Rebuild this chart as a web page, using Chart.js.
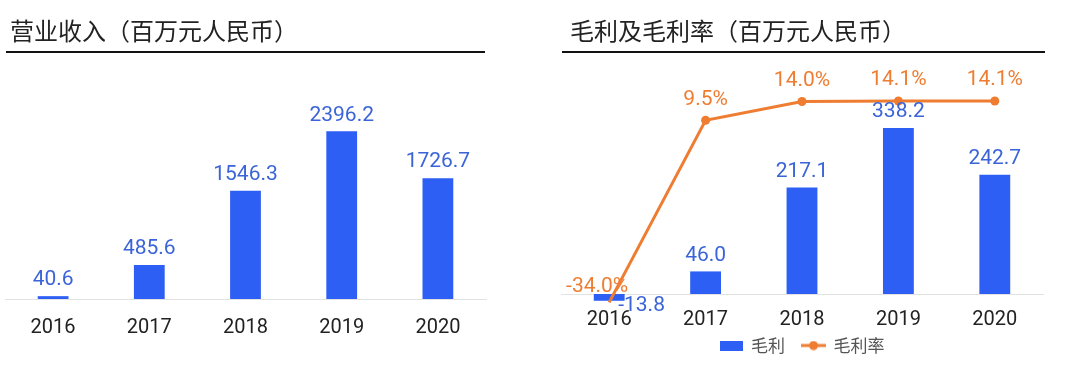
<!DOCTYPE html>
<html>
<head>
<meta charset="utf-8">
<script src="https://cdn.jsdelivr.net/npm/chart.js@4"></script>
<style>
  body { margin: 0; background: #fff; }
  #wrap { position: relative; width: 1080px; height: 365px; overflow: hidden; }
  .title { position: absolute; top: 18px; font: 24px/24px "Noto Sans CJK SC", sans-serif; color: #222; white-space: nowrap; }
  .rule { position: absolute; top: 51px; height: 2px; background: #111; }
  .box { position: absolute; top: 0; width: 540px; height: 365px; }
</style>
</head>
<body>
<div id="wrap">
  <div class="box" style="left:0"><canvas id="ingresos"></canvas></div>
  <div class="box" style="left:540px"><canvas id="margen"></canvas></div>
  <div class="title" style="left:10px">营业收入（百万元人民币）</div>
  <div class="rule" style="left:6px;width:479px"></div>
  <div class="title" style="left:570px">毛利及毛利率（百万元人民币）</div>
  <div class="rule" style="left:562px;width:483px"></div>
</div>
<script>
// datos
const years = ['2016', '2017', '2018', '2019', '2020'];
const revenue = [40.6, 485.6, 1546.3, 2396.2, 1726.7];
const grossProfit = [-13.8, 46.0, 217.1, 338.2, 242.7];
const grossMargin = [-34.0, 9.5, 14.0, 14.1, 14.1];

const BLUE = '#2d5ff5';
const LABEL_BLUE = '#3a64d8';
const ORANGE = '#ee7d32';
const NUM_FONT = 'Roboto, "Noto Sans CJK SC", sans-serif';

// etiquetas de valor encima de barras y puntos
const valueLabels = {
    id: 'valueLabels',
    afterDatasetsDraw(chart) {
        const ctx = chart.ctx;
        ctx.save();
        ctx.font = '21px ' + NUM_FONT;
        ctx.textBaseline = 'middle';
        chart.data.datasets.forEach((ds, i) => {
            const meta = chart.getDatasetMeta(i);
            meta.data.forEach((el, j) => {
                const v = ds.data[j];
                const txt = v.toFixed(1) + (ds.type === 'line' ? '%' : '');
                if (ds.type === 'line') {
                    ctx.fillStyle = ORANGE;
                    if (v < 0) {
                        ctx.textAlign = 'right';
                        ctx.fillText(txt, el.x + 19, el.y - 16);
                    } else {
                        ctx.textAlign = 'center';
                        ctx.fillText(txt, el.x, el.y - 21);
                    }
                } else {
                    ctx.fillStyle = LABEL_BLUE;
                    if (v < 0) {
                        ctx.textAlign = 'left';
                        ctx.fillText(txt, el.x + 9, el.y + 5);
                    } else {
                        ctx.textAlign = 'center';
                        ctx.fillText(txt, el.x, el.y - 16);
                    }
                }
            });
        });
        ctx.restore();
    }
};

// deja que las etiquetas del eje x no se recorten cuando el eje es más bajo
const roomForTicks = {
    id: 'roomForTicks',
    afterLayout(chart) {
        const s = chart.scales.x;
        s.bottom = s.top + 45;
        s.height = 45;
    }
};

const xAxis = (pad, extra) => Object.assign({
    grid: { display: false, drawTicks: false },
    border: { display: true, color: '#e2e2e2', width: 1 },
    ticks: { color: '#222', padding: pad, font: { size: 20, family: NUM_FONT } }
}, extra);

// Gráfico izquierdo: ingresos
new Chart(document.getElementById('ingresos'), {
    type: 'bar',
    data: {
        labels: years,
        datasets: [{
            label: '营业收入',
            data: revenue,
            backgroundColor: BLUE,
            barPercentage: 0.32,
            categoryPercentage: 1,
            clip: false
        }]
    },
    options: {
        responsive: true,
        maintainAspectRatio: false,
        animation: false,
        layout: { padding: { left: 5, right: 54, top: 75, bottom: 26 } },
        scales: {
            x: xAxis(17, { afterFit: (s) => { s.height = 40; } }),
            y: { display: false, min: 0, max: 3200 }
        },
        plugins: { legend: { display: false }, tooltip: { enabled: false } }
    },
    plugins: [valueLabels]
});

// iconos de la leyenda
const rectIcon = document.createElement('canvas');
rectIcon.width = 23; rectIcon.height = 10;
let c = rectIcon.getContext('2d');
c.fillStyle = BLUE;
c.fillRect(0, 0, 23, 10);

const lineIcon = document.createElement('canvas');
lineIcon.width = 25; lineIcon.height = 10;
c = lineIcon.getContext('2d');
c.strokeStyle = ORANGE; c.lineWidth = 3;
c.beginPath(); c.moveTo(0, 5); c.lineTo(25, 5); c.stroke();
c.fillStyle = ORANGE;
c.beginPath(); c.arc(12.5, 5, 4.5, 0, Math.PI * 2); c.fill();

// Gráfico derecho: margen bruto
new Chart(document.getElementById('margen'), {
    type: 'bar',
    data: {
        labels: years,
        datasets: [{
            type: 'bar',
            label: '毛利',
            data: grossProfit,
            backgroundColor: BLUE,
            barPercentage: 0.32,
            categoryPercentage: 1,
            yAxisID: 'y',
            order: 1,
            clip: false
        }, {
            type: 'line',
            label: '毛利率',
            data: grossMargin,
            borderColor: ORANGE,
            backgroundColor: ORANGE,
            borderWidth: 3,
            pointRadius: 4.5,
            pointBorderWidth: 0,
            tension: 0,
            yAxisID: 'y2',
            order: 0,
            clip: false
        }]
    },
    options: {
        responsive: true,
        maintainAspectRatio: false,
        animation: false,
        layout: { padding: { left: 21, right: 37, top: 73, bottom: 1 } },
        scales: {
            x: xAxis(14, { afterFit: (s) => { s.height = 26; } }),
            y: { display: false, min: 0, max: 450 },
            y2: { display: false, min: -32, max: 20.8 }
        },
        plugins: {
            tooltip: { enabled: false },
            legend: {
                position: 'bottom',
                labels: {
                    usePointStyle: true,
                    pointStyleWidth: 23,
                    boxHeight: 10,
                    padding: 17,
                    color: '#555',
                    font: { size: 17, family: '"Noto Sans CJK SC", sans-serif' },
                    sort: (a, b) => a.datasetIndex - b.datasetIndex,
                    generateLabels: (chart) => {
                        const items = Chart.defaults.plugins.legend.labels.generateLabels(chart);
                        items.forEach(it => {
                            it.pointStyle = it.datasetIndex === 0 ? rectIcon : lineIcon;
                        });
                        return items;
                    }
                }
            }
        }
    },
    plugins: [valueLabels, roomForTicks]
});
</script>
</body>
</html>
